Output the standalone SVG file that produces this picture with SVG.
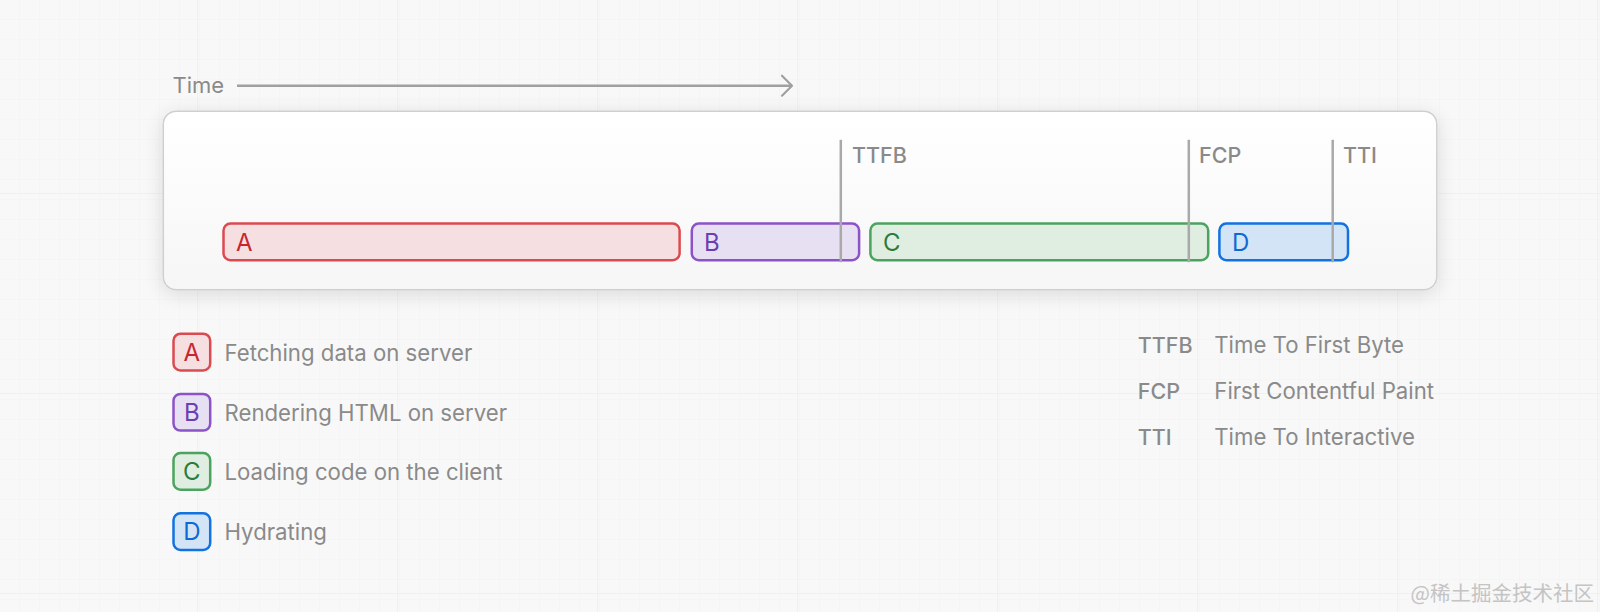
<svg xmlns="http://www.w3.org/2000/svg" width="1600" height="612" viewBox="0 0 1600 612">
<defs>
<style>
.t{font-family:Inter,"Noto Sans","Liberation Sans",sans-serif;fill:#8a8a8a}
.mk{font-size:21.5px;font-weight:500}
.lg{font-size:22.2px}
.bl{font-family:Inter,"Liberation Sans",sans-serif;font-size:24px}
.vl{stroke:#a9a9a9;stroke-width:2.5}
</style>
<pattern id="minor" width="20" height="20" patternUnits="userSpaceOnUse">
<path d="M20 0V20M0 20H20" fill="none" stroke="#ececec" stroke-width="0.8"/>
</pattern>
<pattern id="major" width="200" height="200" patternUnits="userSpaceOnUse" x="-2" y="-6">
<path d="M200 0V200M0 200H200" fill="none" stroke="#e8e8e8" stroke-width="1"/>
</pattern>
<filter id="sh" x="-10%" y="-30%" width="120%" height="160%">
<feGaussianBlur in="SourceAlpha" stdDeviation="10"/>
<feOffset dy="4"/>
<feComponentTransfer><feFuncA type="linear" slope="0.12"/></feComponentTransfer>
<feMerge><feMergeNode/><feMergeNode in="SourceGraphic"/></feMerge>
</filter>
<linearGradient id="pg" x1="0" y1="0" x2="0" y2="1">
<stop offset="0" stop-color="#ffffff"/>
<stop offset="1" stop-color="#f6f6f6"/>
</linearGradient>
<marker id="arr" markerWidth="14" markerHeight="26" refX="12" refY="12" orient="auto" markerUnits="userSpaceOnUse">
<path d="M2 2L12 12L2 22" fill="none" stroke="#a0a0a0" stroke-width="2.2" stroke-linecap="round" stroke-linejoin="round"/>
</marker>
</defs>
<rect width="1600" height="612" fill="#f8f8f8"/>
<rect width="1600" height="612" fill="url(#minor)" opacity="0.6"/>
<rect width="1600" height="612" fill="url(#major)"/>

<g id="time-axis">
<text class="t" x="172.5" y="93" font-size="22">Time</text>
<line x1="237" y1="85.7" x2="792" y2="85.7" stroke="#a0a0a0" stroke-width="2.5" marker-end="url(#arr)"/>
</g>

<g id="panel">
<rect x="163.3" y="111.2" width="1273.5" height="178.6" rx="13" fill="url(#pg)" stroke="#cfcfcf" stroke-width="1.5" filter="url(#sh)"/>
</g>

<g id="bar-A">
<rect x="223.5" y="223.5" width="456.1" height="36.7" rx="7" fill="#f6dfe1" stroke="#dc4a51" stroke-width="2.5"/>
<text x="236" y="250.5" class="bl" fill="#c8262f">A</text>
</g>
<g id="bar-B">
<rect x="691.8" y="223.5" width="167.3" height="36.7" rx="7" fill="#e7e0f2" stroke="#8c52c8" stroke-width="2.5"/>
<text x="704" y="250.5" class="bl" fill="#6e3db3">B</text>
</g>
<g id="bar-C">
<rect x="870.4" y="223.5" width="337.8" height="36.7" rx="7" fill="#dfeee0" stroke="#4ca35f" stroke-width="2.5"/>
<text x="883" y="250.5" class="bl" fill="#2c7b3c">C</text>
</g>
<g id="bar-D">
<rect x="1219.4" y="223.5" width="128.6" height="36.7" rx="7" fill="#d4e4f7" stroke="#1272e0" stroke-width="2.5"/>
<text x="1232" y="250.5" class="bl" fill="#0f69d4">D</text>
</g>

<g id="markers">
<line class="vl" x1="840.8" y1="139.8" x2="840.8" y2="262.2"/>
<line class="vl" x1="1188.8" y1="139.8" x2="1188.8" y2="262.2"/>
<line class="vl" x1="1332.7" y1="139.8" x2="1332.7" y2="262.2"/>
</g>
<g id="marker-TTFB"><text class="t mk" x="852" y="162.5">TTFB</text></g>
<g id="marker-FCP"><text class="t mk" x="1199" y="162.5">FCP</text></g>
<g id="marker-TTI"><text class="t mk" x="1343" y="162.5">TTI</text></g>

<g id="legend-A">
<rect x="173.5" y="333.7" width="36.7" height="36.7" rx="7" fill="#f6dfe1" stroke="#dc4a51" stroke-width="2.5"/>
<text x="191.8" y="360.5" text-anchor="middle" class="bl" fill="#c8262f">A</text>
<text class="t lg" x="224.5" y="360.5">Fetching data on server</text>
</g>
<g id="legend-B">
<rect x="173.5" y="393.9" width="36.7" height="36.7" rx="7" fill="#e7e0f2" stroke="#8c52c8" stroke-width="2.5"/>
<text x="191.8" y="420.7" text-anchor="middle" class="bl" fill="#6e3db3">B</text>
<text class="t lg" x="224.5" y="420.7">Rendering HTML on server</text>
</g>
<g id="legend-C">
<rect x="173.5" y="453" width="36.7" height="36.7" rx="7" fill="#dfeee0" stroke="#4ca35f" stroke-width="2.5"/>
<text x="191.8" y="479.8" text-anchor="middle" class="bl" fill="#2c7b3c">C</text>
<text class="t lg" x="224.5" y="479.8">Loading code on the client</text>
</g>
<g id="legend-D">
<rect x="173.5" y="513.3" width="36.7" height="36.7" rx="7" fill="#d4e4f7" stroke="#1272e0" stroke-width="2.5"/>
<text x="191.8" y="540.1" text-anchor="middle" class="bl" fill="#0f69d4">D</text>
<text class="t lg" x="224.5" y="540.1">Hydrating</text>
</g>

<g id="abbr-TTFB">
<text class="t mk" x="1137.8" y="353.3">TTFB</text>
<text class="t lg" x="1214.3" y="353.3">Time To First Byte</text>
</g>
<g id="abbr-FCP">
<text class="t mk" x="1137.8" y="399.2">FCP</text>
<text class="t lg" x="1214.3" y="399.2">First Contentful Paint</text>
</g>
<g id="abbr-TTI">
<text class="t mk" x="1137.8" y="445">TTI</text>
<text class="t lg" x="1214.3" y="445">Time To Interactive</text>
</g>

<text x="1594" y="601" text-anchor="end" font-family="'Noto Sans CJK SC','Noto Sans',sans-serif" font-size="20.5" fill="#c4c4c4">@稀土掘金技术社区</text>
</svg>
